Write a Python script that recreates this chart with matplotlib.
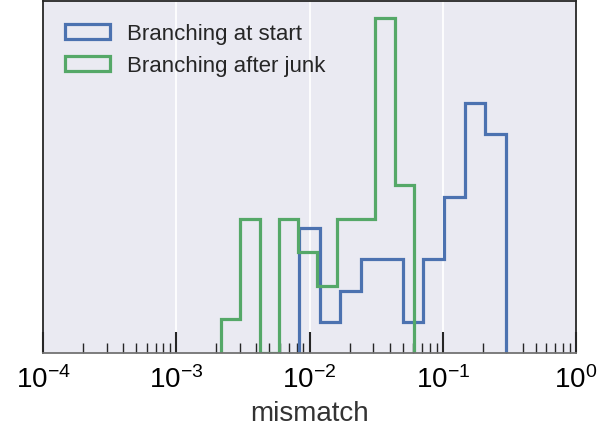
import numpy as np
import matplotlib
matplotlib.use("Agg")
import matplotlib.pyplot as plt
import seaborn as sns

# log10 range of the bins for each run, and counts per bin
start_range = (-2.079, -0.525)
start_counts = [4, 1, 2, 3, 3, 1, 3, 5, 8, 7]
junk_range = (-2.664, -1.216)
junk_counts = [1, 4, 0, 4, 3, 2, 4, 4, 10, 5]
labels = ["Branching at start", "Branching after junk"]
xticks = [1e-4, 1e-3, 1e-2, 1e-1, 1e0]

sns.set_style("darkgrid")
plt.rcParams['font.family'] = ['Liberation Sans', 'DejaVu Sans']
plt.rcParams['mathtext.fontset'] = 'dejavusans'

fig = plt.figure(figsize=(6.14, 4.27), dpi=100)
ax = fig.add_axes([43 / 614, 73 / 427, 533 / 614, 352 / 427])

colors = ["#4C72B0", "#55A868"]
for (lo, hi), counts, lab, col in zip([start_range, junk_range],
                                      [start_counts, junk_counts],
                                      labels, colors):
    counts = np.array(counts, float)
    edges = np.logspace(lo, hi, len(counts) + 1)
    dlog = (hi - lo) / len(counts)
    # density of log10(mismatch)
    weights = counts / (counts.sum() * dlog)
    ax.hist(edges[:-1] * 1.0001, bins=edges, weights=weights,
            histtype='step', lw=2.3, color=col, label=lab)

ax.set_xscale('log')
ax.set_xlim(1e-4, 1)
ax.set_xticks(xticks)
ax.set_yticks([])
ax.grid(True, axis='x', which='major', color='white', lw=1.3)
ax.grid(False, axis='y')
ax.tick_params(axis='x', which='major', direction='in', length=15, width=1.5,
               color='0.15', labelsize=20, labelcolor='black', bottom=True, pad=9)
ax.tick_params(axis='x', which='minor', direction='in', length=7, width=1.0,
               color='0.15', bottom=True)
for sp in ax.spines.values():
    sp.set_visible(True)
    sp.set_color('0.15')
    sp.set_linewidth(1.3)
ax.spines['bottom'].set_color('0.45')

ax.set_xlabel('mismatch', fontsize=20, color='0.2', labelpad=5)
ax.legend(loc='upper left', fontsize=16, frameon=False,
          borderaxespad=0.6, handletextpad=0.8)

fig.savefig('out.png', dpi=100)
